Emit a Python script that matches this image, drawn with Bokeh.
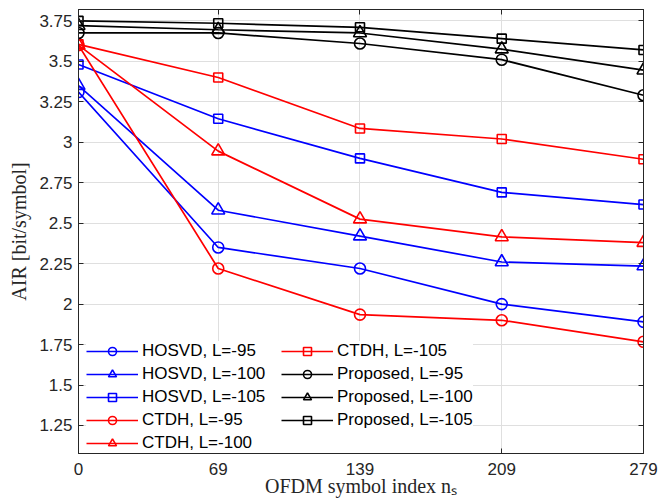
from bokeh.plotting import figure
from bokeh.models import (Range1d, FixedTicker, LinearAxis, Legend, LegendItem,
                          CustomJSTickFormatter)
from bokeh.embed import file_html
from bokeh.resources import INLINE

# ---- data ----
x_idx = [0, 69, 139, 209, 279]
x_ticks = [0, 69, 139, 209, 279]
x_tick_labels = ["0", "69", "139", "209", "279"]
y_ticks = [1.25, 1.5, 1.75, 2.0, 2.25, 2.5, 2.75, 3.0, 3.25, 3.5, 3.75]
y_tick_labels = ["1.25", "1.5", "1.75", "2", "2.25", "2.5", "2.75", "3", "3.25", "3.5", "3.75"]

hosvd_95 = [3.31, 2.35, 2.22, 2.00, 1.89]
hosvd_100 = [3.35, 2.58, 2.42, 2.26, 2.235]
hosvd_105 = [3.48, 3.145, 2.90, 2.69, 2.615]
ctdh_95 = [3.60, 2.22, 1.935, 1.90, 1.767]
ctdh_100 = [3.60, 2.945, 2.525, 2.415, 2.38]
ctdh_105 = [3.605, 3.40, 3.085, 3.02, 2.895]
prop_95 = [3.675, 3.675, 3.61, 3.51, 3.29]
prop_100 = [3.72, 3.695, 3.675, 3.575, 3.445]
prop_105 = [3.75, 3.735, 3.71, 3.64, 3.57]

series = [
    ("HOSVD, L=-95", hosvd_95, "#0000ff", "circle"),
    ("HOSVD, L=-100", hosvd_100, "#0000ff", "triangle"),
    ("HOSVD, L=-105", hosvd_105, "#0000ff", "square"),
    ("CTDH, L=-95", ctdh_95, "#ff0000", "circle"),
    ("CTDH, L=-100", ctdh_100, "#ff0000", "triangle"),
    ("CTDH, L=-105", ctdh_105, "#ff0000", "square"),
    ("Proposed, L=-95", prop_95, "#000000", "circle"),
    ("Proposed, L=-100", prop_100, "#000000", "triangle"),
    ("Proposed, L=-105", prop_105, "#000000", "square"),
]
marker_size = {"circle": 11, "triangle": 13, "square": 9}

AX = "#262626"
TICK_FONT = "Liberation Sans"
SERIF = "Liberation Serif"

p = figure(width=668, height=503, output_backend="svg", toolbar_location=None,
           x_range=Range1d(0, 279), y_range=Range1d(1.077, 3.82),
           min_border_left=78, min_border_right=25, min_border_top=9,
           min_border_bottom=50)
p.background_fill_color = "white"
p.border_fill_color = "white"
p.outline_line_color = AX
p.outline_line_width = 1

xa = p.xaxis[0]
ya = p.yaxis[0]
xa.ticker = FixedTicker(ticks=x_ticks)
xa.major_label_overrides = dict(zip(x_ticks, x_tick_labels))
ya.ticker = FixedTicker(ticks=y_ticks)
ya.major_label_overrides = dict(zip(y_ticks, y_tick_labels))
for ax in (xa, ya):
    ax.axis_line_color = AX
    ax.major_tick_in = 5
    ax.major_tick_out = 0
    ax.minor_tick_line_color = None
    ax.major_tick_line_color = AX
    ax.major_label_text_font = TICK_FONT
    ax.major_label_text_font_size = "17px"
    ax.major_label_text_color = AX
    ax.axis_label_text_font = SERIF
    ax.axis_label_text_font_size = "20px"
    ax.axis_label_text_font_style = "normal"
    ax.axis_label_text_color = AX
xa.major_label_standoff = 9
ya.major_label_standoff = 6
ya.axis_label = "AIR [bit/symbol]"
ya.axis_label_standoff = 6
xa.axis_label = "OFDM symbol index n\u209b"
xa.axis_label_standoff = -3

blank = CustomJSTickFormatter(code="return ''")
top = LinearAxis(ticker=FixedTicker(ticks=x_ticks), formatter=blank,
                 major_tick_in=5, major_tick_out=0, minor_tick_line_color=None,
                 axis_line_color=AX, major_tick_line_color=AX,
                 major_label_text_font_size="0px", major_label_standoff=0)
right = LinearAxis(ticker=FixedTicker(ticks=y_ticks), formatter=blank,
                   major_tick_in=5, major_tick_out=0, minor_tick_line_color=None,
                   axis_line_color=AX, major_tick_line_color=AX,
                   major_label_text_font_size="0px", major_label_standoff=0)
p.add_layout(top, "above")
p.add_layout(right, "right")

p.xgrid.grid_line_color = "#dfdfdf"
p.ygrid.grid_line_color = "#dfdfdf"

items = []
for label, ys, color, marker in series:
    lr = p.line(x_idx, ys, line_color=color, line_width=1.7)
    sr = p.scatter(x_idx, ys, marker=marker, size=marker_size[marker],
                   line_color=color, line_width=1.6, fill_color=None)
    items.append(LegendItem(label=label, renderers=[lr, sr]))

legend = Legend(items=items, location=(8, 0), orientation="vertical", nrows=5,
                background_fill_color="white", background_fill_alpha=1.0,
                border_line_color=None, label_text_font=TICK_FONT,
                label_text_font_size="17px", label_text_color="#000000",
                glyph_width=52, glyph_height=20, label_height=20, label_width=136,
                label_standoff=4, spacing=3, padding=8, margin=0)
p.add_layout(legend, "center")

open("out.html", "w").write(file_html(p, INLINE))
